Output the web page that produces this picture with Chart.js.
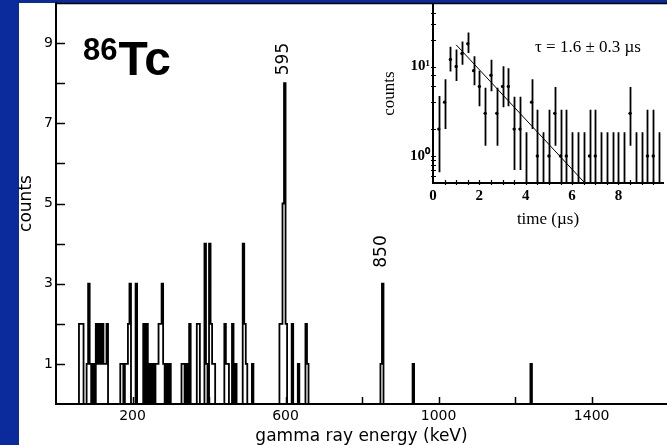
<!DOCTYPE html>
<html>
<head>
<meta charset="utf-8">
<script src="https://cdn.jsdelivr.net/npm/chart.js@4.4.1/dist/chart.umd.min.js"></script>
<style>
  html, body { margin: 0; padding: 0; }
  body { width: 667px; height: 445px; background: #0b2a9c; position: relative; overflow: hidden; }
  #panel { position: absolute; left: 19px; top: 3px; width: 648px; height: 442px; background: #fff; }
  #main { position: absolute; left: 0; top: 0; }
  #inset { position: absolute; left: 360px; top: 0; }
</style>
</head>
<body>
<div id="panel"></div>
<canvas id="main" width="667" height="445"></canvas>
<canvas id="inset" width="307" height="235"></canvas>
<script>
// gamma spectrum: 4 keV bins, start energy (keV) and counts, empty bins left out
const binWidth = 4;
const binStart = [60, 64, 68, 80, 84, 88, 96, 104, 108, 112, 116, 120, 124, 128, 132,
  168, 172, 180, 184, 188, 192, 208,
  228, 236, 244, 252, 260, 264, 268, 272, 276, 280, 288, 296,
  328, 332, 340, 348, 368, 372,
  388, 392, 400, 404, 408, 412,
  440, 444, 448, 460, 468, 488, 492, 496, 512,
  584, 588, 592, 596, 600, 616, 632, 652, 656,
  848, 852, 932, 1240];
const binCounts = [2, 2, 2, 1, 3, 1, 1, 2, 1, 2, 1, 2, 1, 1, 2,
  1, 1, 1, 1, 2, 3, 3,
  2, 2, 1, 1, 1, 1, 2, 2, 3, 1, 1, 1,
  1, 1, 1, 2, 2, 2,
  4, 1, 4, 2, 1, 1,
  2, 1, 1, 2, 1, 4, 2, 1, 1,
  2, 2, 5, 8, 2, 2, 1, 2, 1,
  1, 3, 1, 1];

const energyTicks = [200, 600, 1000, 1400];
const energyTickMarks = [200, 400, 600, 800, 1000, 1200, 1400];
const countTicks = [1, 3, 5, 7, 9];
const countTickMarks = [1, 2, 3, 4, 5, 6, 7, 8, 9];

const peakLabels = ['595', '850'];
const peakEnergy = [595, 850];
const peakHeight = [8, 3];

// inset: decay time spectrum
const decayTimes = [0.25, 0.5, 0.75, 1, 1.25, 1.5, 1.75, 2, 2.25, 2.5, 2.75, 3, 3.25, 3.5, 3.75,
  4, 4.25, 4.5, 4.75, 5, 5.25, 5.5, 5.75, 6, 6.25, 6.5, 6.75, 7, 7.25, 7.5, 7.75,
  8, 8.25, 8.5, 8.75, 9, 9.25, 9.5, 9.75];
const decayCounts = [2, 4, 12, 10, 14, 18, 9, 6, 3, 8, 3, 6, 6, 2, 2,
  0, 4, 1, 0, 1, 3, 1, 1, 0, 0, 0, 1, 1, 0, 0, 0,
  0, 0, 3, 0, 0, 1, 1, 0];
const errLow = [0.66, 2.0, 8.8, 6.9, 10.5, 14.2, 6.2, 3.6, 1.3, 5.3, 1.3, 3.5, 3.6, 0.7, 0.7,
  0.3, 2.0, 0.3, 0.3, 0.3, 1.3, 0.3, 0.3, 0.3, 0.3, 0.3, 0.3, 0.3, 0.3, 0.3, 0.3,
  0.3, 0.3, 1.3, 0.3, 0.3, 0.3, 0.3, 0.3];
const errHigh = [4.7, 7.2, 16.6, 15.5, 19.1, 24, 13, 9.0, 5.8, 11.9, 5.8, 10.1, 9.6, 4.6, 4.6,
  1.84, 7.2, 3.3, 1.84, 3.3, 5.9, 3.3, 3.3, 1.84, 1.84, 1.84, 3.3, 3.3, 1.84, 1.84, 1.84,
  1.84, 1.84, 5.9, 1.84, 1.84, 3.3, 3.3, 1.84];
const fitTimes = [1.0, 6.55];
const fitCounts = [17.5, 0.5];

const timeTicks = [0, 2, 4, 6, 8];
const timeTickMarks = [0.5, 1, 1.5, 2, 2.5, 3, 3.5, 4, 4.5, 5, 5.5, 6, 6.5, 7, 7.5, 8, 8.5, 9, 9.5];
const decadeValues = [1, 10];
const decadeLabels = ['10\u2070', '10\u00b9'];
const logTickMarks = [0.6, 0.7, 0.8, 0.9, 1, 2, 4, 6, 8, 10, 20, 30, 40];

const SANS = '"DejaVu Sans", sans-serif';
const SERIF = '"Liberation Serif", "Times New Roman", serif';

// histogram outline points (stepped)
const histPoints = [{ x: 0, y: 0 }];
binStart.forEach((e, i) => {
  histPoints.push({ x: e, y: binCounts[i] });
  if (binStart[i + 1] !== e + binWidth) histPoints.push({ x: e + binWidth, y: 0 });
});
histPoints.push({ x: 1600, y: 0 });

// keep the plot box exactly where the axes are, no label padding
const noPad = s => { s.paddingTop = 0; s.paddingBottom = 0; s.paddingLeft = 0; s.paddingRight = 0; };

const mainDecor = {
  id: 'mainDecor',
  afterDraw(chart) {
    const { ctx, chartArea: a, scales: { x, y } } = chart;
    ctx.save();
    ctx.strokeStyle = '#000';
    ctx.lineWidth = 1.5;
    ctx.beginPath();
    ctx.moveTo(a.left - 1, a.top + 0.5);
    ctx.lineTo(a.right, a.top + 0.5);
    countTickMarks.forEach(v => {
      const py = Math.round(y.getPixelForValue(v)) + 0.5;
      ctx.moveTo(a.left, py);
      ctx.lineTo(a.left + 9, py);
    });
    energyTickMarks.forEach(v => {
      const px = Math.round(x.getPixelForValue(v)) + 0.5;
      ctx.moveTo(px, a.bottom);
      ctx.lineTo(px, a.bottom - 7);
    });
    ctx.stroke();

    ctx.fillStyle = '#000';
    ctx.textAlign = 'left';
    ctx.textBaseline = 'alphabetic';
    const sx = a.left + 27;
    ctx.font = 'bold 31px "Liberation Sans", Arial, sans-serif';
    ctx.fillText('86', sx, a.top + 57);
    const w = ctx.measureText('86').width;
    ctx.font = 'bold 48px "Liberation Sans", Arial, sans-serif';
    ctx.fillText('Tc', sx + w + 1, a.top + 72);

    const gap = [8, 16];
    ctx.font = '17px ' + SANS;
    ctx.textBaseline = 'middle';
    peakLabels.forEach((txt, i) => {
      ctx.save();
      ctx.translate(x.getPixelForValue(peakEnergy[i]), y.getPixelForValue(peakHeight[i]) - gap[i]);
      ctx.rotate(-Math.PI / 2);
      ctx.fillText(txt, 0, 0);
      ctx.restore();
    });
    ctx.restore();
  }
};

new Chart(document.getElementById('main'), {
  type: 'line',
  data: {
    datasets: [{
      data: histPoints,
      stepped: 'before',
      borderColor: '#000',
      borderWidth: 1.8,
      pointRadius: 0,
      fill: false
    }]
  },
  options: {
    responsive: false,
    animation: false,
    devicePixelRatio: 1,
    layout: { padding: { top: 3, left: 0, right: 0, bottom: 0 } },
    plugins: { legend: { display: false }, tooltip: { enabled: false } },
    scales: {
      x: {
        type: 'linear', min: 0, max: 1597,
        grid: { display: false, drawTicks: false },
        border: { color: '#000', width: 2 },
        afterBuildTicks: s => { s.ticks = energyTicks.map(v => ({ value: v })); },
        afterFit: s => { s.height = 41; noPad(s); },
        ticks: { color: '#000', font: { family: SANS, size: 14 }, padding: 4, maxRotation: 0,
          callback: v => String(v) },
        title: { display: true, text: 'gamma ray energy (keV)', color: '#000',
          font: { family: SANS, size: 17, lineHeight: 1 }, padding: { top: 0, bottom: 0 } }
      },
      y: {
        type: 'linear', min: 0, max: 10,
        grid: { display: false, drawTicks: false },
        border: { color: '#000', width: 2 },
        afterBuildTicks: s => { s.ticks = countTicks.map(v => ({ value: v })); },
        afterFit: s => { s.width = 56; noPad(s); },
        ticks: { color: '#000', font: { family: SANS, size: 14 }, padding: 3 },
        title: { display: true, text: 'counts', color: '#000',
          font: { family: SANS, size: 17, lineHeight: 1 }, padding: { top: 18, bottom: 0 } }
      }
    }
  },
  plugins: [mainDecor]
});

const insetDecor = {
  id: 'insetDecor',
  afterDatasetsDraw(chart) {
    const { ctx, chartArea: a, scales: { x, y } } = chart;
    ctx.save();
    ctx.beginPath();
    ctx.rect(a.left, a.top, a.right - a.left, a.bottom - a.top);
    ctx.clip();
    ctx.strokeStyle = '#000';
    ctx.lineWidth = 1.8;
    ctx.beginPath();
    decayTimes.forEach((t, i) => {
      const px = Math.round(x.getPixelForValue(t)) + 0.5;
      ctx.moveTo(px, y.getPixelForValue(errLow[i]));
      ctx.lineTo(px, y.getPixelForValue(errHigh[i]));
    });
    ctx.stroke();
    ctx.restore();
  },
  afterDraw(chart) {
    const { ctx, chartArea: a, scales: { x, y } } = chart;
    ctx.save();
    ctx.strokeStyle = '#000';
    ctx.lineWidth = 1.2;
    ctx.beginPath();
    timeTickMarks.forEach(v => {
      const px = Math.round(x.getPixelForValue(v)) + 0.5;
      ctx.moveTo(px, a.bottom + 2);
      ctx.lineTo(px, a.bottom - 3);
    });
    logTickMarks.forEach(v => {
      const py = Math.round(y.getPixelForValue(v)) + 0.5;
      ctx.moveTo(a.left - 2, py);
      ctx.lineTo(a.left + 3, py);
    });
    ctx.stroke();

    ctx.fillStyle = '#000';
    ctx.font = '17px ' + SERIF;
    ctx.textAlign = 'left';
    ctx.textBaseline = 'middle';
    ctx.fillText('\u03c4 = 1.6 \u00b1 0.3 \u00b5s', a.left + 102, a.top + 44);
    ctx.restore();
  }
};

new Chart(document.getElementById('inset'), {
  type: 'scatter',
  data: {
    datasets: [{
      data: decayTimes.map((t, i) => ({ x: t, y: decayCounts[i] > 0 ? decayCounts[i] : null })),
      pointRadius: 1.7,
      pointBackgroundColor: '#000',
      pointBorderWidth: 0
    }, {
      type: 'line',
      data: fitTimes.map((t, i) => ({ x: t, y: fitCounts[i] })),
      borderColor: '#000',
      borderWidth: 1,
      pointRadius: 0
    }]
  },
  options: {
    responsive: false,
    animation: false,
    devicePixelRatio: 1,
    layout: { padding: { top: 3, left: 0, right: 0, bottom: 0 } },
    plugins: { legend: { display: false }, tooltip: { enabled: false } },
    scales: {
      x: {
        type: 'linear', min: 0, max: 9.92,
        grid: { display: false, drawTicks: false },
        border: { color: '#000', width: 2 },
        afterBuildTicks: s => { s.ticks = timeTicks.map(v => ({ value: v })); },
        afterFit: s => { s.height = 52; noPad(s); },
        ticks: { color: '#000', font: { family: SERIF, size: 15, weight: 'bold' }, padding: 4, maxRotation: 0,
          callback: v => String(v) },
        title: { display: true, text: 'time (\u00b5s)', color: '#000',
          font: { family: SERIF, size: 17 }, padding: { top: 0, bottom: 5 } }
      },
      y: {
        type: 'logarithmic', min: 0.5, max: 50,
        grid: { display: false, drawTicks: false },
        border: { color: '#000', width: 2 },
        afterBuildTicks: s => { s.ticks = decadeValues.map(v => ({ value: v })); },
        afterFit: s => { s.width = 73; noPad(s); },
        ticks: { color: '#000', font: { family: SERIF, size: 15, weight: 'bold' }, padding: 3,
          callback: v => decadeLabels[decadeValues.indexOf(v)] },
        title: { display: true, text: 'counts', color: '#000',
          font: { family: SERIF, size: 17 }, padding: { top: 19, bottom: 0 } }
      }
    }
  },
  plugins: [insetDecor]
});
</script>
</body>
</html>
